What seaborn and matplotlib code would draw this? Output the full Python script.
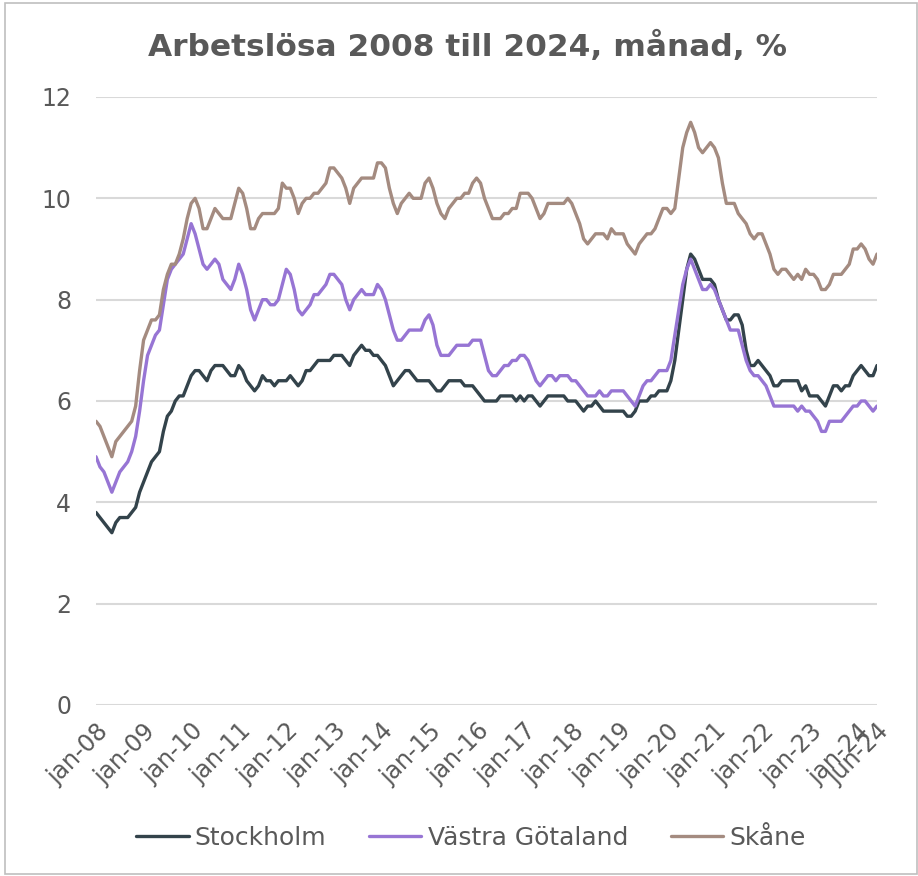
import matplotlib
matplotlib.use("Agg")
import matplotlib.pyplot as plt
import numpy as np
import pandas as pd
import seaborn as sns
from matplotlib.patches import Rectangle

# monthly values jan-08 .. jun-24
STOCKHOLM = [
    3.8, 3.7, 3.6, 3.5, 3.4, 3.6, 3.7, 3.7, 3.7, 3.8, 3.9, 4.2,
    4.4, 4.6, 4.8, 4.9, 5.0, 5.4, 5.7, 5.8, 6.0, 6.1, 6.1, 6.3,
    6.5, 6.6, 6.6, 6.5, 6.4, 6.6, 6.7, 6.7, 6.7, 6.6, 6.5, 6.5,
    6.7, 6.6, 6.4, 6.3, 6.2, 6.3, 6.5, 6.4, 6.4, 6.3, 6.4, 6.4,
    6.4, 6.5, 6.4, 6.3, 6.4, 6.6, 6.6, 6.7, 6.8, 6.8, 6.8, 6.8,
    6.9, 6.9, 6.9, 6.8, 6.7, 6.9, 7.0, 7.1, 7.0, 7.0, 6.9, 6.9,
    6.8, 6.7, 6.5, 6.3, 6.4, 6.5, 6.6, 6.6, 6.5, 6.4, 6.4, 6.4,
    6.4, 6.3, 6.2, 6.2, 6.3, 6.4, 6.4, 6.4, 6.4, 6.3, 6.3, 6.3,
    6.2, 6.1, 6.0, 6.0, 6.0, 6.0, 6.1, 6.1, 6.1, 6.1, 6.0, 6.1,
    6.0, 6.1, 6.1, 6.0, 5.9, 6.0, 6.1, 6.1, 6.1, 6.1, 6.1, 6.0,
    6.0, 6.0, 5.9, 5.8, 5.9, 5.9, 6.0, 5.9, 5.8, 5.8, 5.8, 5.8,
    5.8, 5.8, 5.7, 5.7, 5.8, 6.0, 6.0, 6.0, 6.1, 6.1, 6.2, 6.2,
    6.2, 6.4, 6.8, 7.4, 8.0, 8.6, 8.9, 8.8, 8.6, 8.4, 8.4, 8.4,
    8.3, 8.0, 7.8, 7.6, 7.6, 7.7, 7.7, 7.5, 7.0, 6.7, 6.7, 6.8,
    6.7, 6.6, 6.5, 6.3, 6.3, 6.4, 6.4, 6.4, 6.4, 6.4, 6.2, 6.3,
    6.1, 6.1, 6.1, 6.0, 5.9, 6.1, 6.3, 6.3, 6.2, 6.3, 6.3, 6.5,
    6.6, 6.7, 6.6, 6.5, 6.5, 6.7,
]

VASTRA_GOTALAND = [
    4.9, 4.7, 4.6, 4.4, 4.2, 4.4, 4.6, 4.7, 4.8, 5.0, 5.3, 5.8,
    6.4, 6.9, 7.1, 7.3, 7.4, 7.9, 8.4, 8.6, 8.7, 8.8, 8.9, 9.2,
    9.5, 9.3, 9.0, 8.7, 8.6, 8.7, 8.8, 8.7, 8.4, 8.3, 8.2, 8.4,
    8.7, 8.5, 8.2, 7.8, 7.6, 7.8, 8.0, 8.0, 7.9, 7.9, 8.0, 8.3,
    8.6, 8.5, 8.2, 7.8, 7.7, 7.8, 7.9, 8.1, 8.1, 8.2, 8.3, 8.5,
    8.5, 8.4, 8.3, 8.0, 7.8, 8.0, 8.1, 8.2, 8.1, 8.1, 8.1, 8.3,
    8.2, 8.0, 7.7, 7.4, 7.2, 7.2, 7.3, 7.4, 7.4, 7.4, 7.4, 7.6,
    7.7, 7.5, 7.1, 6.9, 6.9, 6.9, 7.0, 7.1, 7.1, 7.1, 7.1, 7.2,
    7.2, 7.2, 6.9, 6.6, 6.5, 6.5, 6.6, 6.7, 6.7, 6.8, 6.8, 6.9,
    6.9, 6.8, 6.6, 6.4, 6.3, 6.4, 6.5, 6.5, 6.4, 6.5, 6.5, 6.5,
    6.4, 6.4, 6.3, 6.2, 6.1, 6.1, 6.1, 6.2, 6.1, 6.1, 6.2, 6.2,
    6.2, 6.2, 6.1, 6.0, 5.9, 6.1, 6.3, 6.4, 6.4, 6.5, 6.6, 6.6,
    6.6, 6.8, 7.3, 7.8, 8.3, 8.6, 8.8, 8.6, 8.4, 8.2, 8.2, 8.3,
    8.2, 8.0, 7.8, 7.6, 7.4, 7.4, 7.4, 7.1, 6.8, 6.6, 6.5, 6.5,
    6.4, 6.3, 6.1, 5.9, 5.9, 5.9, 5.9, 5.9, 5.9, 5.8, 5.9, 5.8,
    5.8, 5.7, 5.6, 5.4, 5.4, 5.6, 5.6, 5.6, 5.6, 5.7, 5.8, 5.9,
    5.9, 6.0, 6.0, 5.9, 5.8, 5.9,
]

SKANE = [
    5.6, 5.5, 5.3, 5.1, 4.9, 5.2, 5.3, 5.4, 5.5, 5.6, 5.9, 6.6,
    7.2, 7.4, 7.6, 7.6, 7.7, 8.2, 8.5, 8.7, 8.7, 8.9, 9.2, 9.6,
    9.9, 10.0, 9.8, 9.4, 9.4, 9.6, 9.8, 9.7, 9.6, 9.6, 9.6, 9.9,
    10.2, 10.1, 9.8, 9.4, 9.4, 9.6, 9.7, 9.7, 9.7, 9.7, 9.8, 10.3,
    10.2, 10.2, 10.0, 9.7, 9.9, 10.0, 10.0, 10.1, 10.1, 10.2, 10.3, 10.6,
    10.6, 10.5, 10.4, 10.2, 9.9, 10.2, 10.3, 10.4, 10.4, 10.4, 10.4, 10.7,
    10.7, 10.6, 10.2, 9.9, 9.7, 9.9, 10.0, 10.1, 10.0, 10.0, 10.0, 10.3,
    10.4, 10.2, 9.9, 9.7, 9.6, 9.8, 9.9, 10.0, 10.0, 10.1, 10.1, 10.3,
    10.4, 10.3, 10.0, 9.8, 9.6, 9.6, 9.6, 9.7, 9.7, 9.8, 9.8, 10.1,
    10.1, 10.1, 10.0, 9.8, 9.6, 9.7, 9.9, 9.9, 9.9, 9.9, 9.9, 10.0,
    9.9, 9.7, 9.5, 9.2, 9.1, 9.2, 9.3, 9.3, 9.3, 9.2, 9.4, 9.3,
    9.3, 9.3, 9.1, 9.0, 8.9, 9.1, 9.2, 9.3, 9.3, 9.4, 9.6, 9.8,
    9.8, 9.7, 9.8, 10.4, 11.0, 11.3, 11.5, 11.3, 11.0, 10.9, 11.0, 11.1,
    11.0, 10.8, 10.3, 9.9, 9.9, 9.9, 9.7, 9.6, 9.5, 9.3, 9.2, 9.3,
    9.3, 9.1, 8.9, 8.6, 8.5, 8.6, 8.6, 8.5, 8.4, 8.5, 8.4, 8.6,
    8.5, 8.5, 8.4, 8.2, 8.2, 8.3, 8.5, 8.5, 8.5, 8.6, 8.7, 9.0,
    9.0, 9.1, 9.0, 8.8, 8.7, 8.9,
]

REGIONS = ["Stockholm", "Västra Götaland", "Skåne"]
COLORS = ["#33434b", "#9775d4", "#a48b80"]

XTICK_LABELS = [
    "jan-08", "jan-09", "jan-10", "jan-11", "jan-12", "jan-13", "jan-14",
    "jan-15", "jan-16", "jan-17", "jan-18", "jan-19", "jan-20", "jan-21",
    "jan-22", "jan-23", "jan-24", "jun-24",
]

TITLE = "Arbetslösa 2008 till 2024, månad, %"

n = len(STOCKHOLM)
df = pd.DataFrame({
    "month": list(range(n)) * 3,
    "value": STOCKHOLM + VASTRA_GOTALAND + SKANE,
    "region": [r for r in REGIONS for _ in range(n)],
})

sns.set_style("white")
plt.rcParams["font.family"] = ["DejaVu Sans"]
text_grey = "#595959"

fig = plt.figure(figsize=(9.18, 8.76), dpi=100)
ax = fig.add_axes([96 / 918, 1 - 705 / 876, 781 / 918, 608 / 876])

sns.lineplot(data=df, x="month", y="value", hue="region", hue_order=REGIONS,
             palette=dict(zip(REGIONS, COLORS)), linewidth=2.4, ax=ax)

ax.set_xlim(0, n - 1)
ax.set_ylim(0, 12)
ax.set_yticks(np.arange(0, 13, 2))
ax.yaxis.grid(True, color="#d9d9d9", linewidth=1.5)
ax.set_axisbelow(True)
for s in ax.spines.values():
    s.set_visible(False)
ax.set_xlabel("")
ax.set_ylabel("")

tick_pos = list(range(0, n, 12)) + [n - 1]
ax.set_xticks(tick_pos)
ax.set_xticklabels(XTICK_LABELS, rotation=45, ha="right", va="top",
                   rotation_mode="anchor")
ax.tick_params(axis="x", length=0, pad=10, labelsize=17, labelcolor=text_grey)
ax.tick_params(axis="y", length=0, pad=18, labelsize=17, labelcolor=text_grey)

handles, labels = ax.get_legend_handles_labels()
ax.get_legend().remove()
leg = fig.legend(handles, labels, loc="center", bbox_to_anchor=(0.513, 1 - 838 / 876),
                 ncol=3, frameon=False, fontsize=18, handlelength=2.1,
                 handletextpad=0.25, columnspacing=1.7)
for t in leg.get_texts():
    t.set_color(text_grey)

fig.text(0.509, 1 - 46 / 876, TITLE, ha="center", va="center",
         fontsize=22.5, fontweight="bold", color=text_grey)

fig.patches.append(Rectangle((5 / 918, 2 / 876), 912 / 918, 871 / 876,
                             transform=fig.transFigure, fill=False,
                             edgecolor="#bfbfbf", linewidth=1.2))

fig.savefig("out.png", dpi=100)
